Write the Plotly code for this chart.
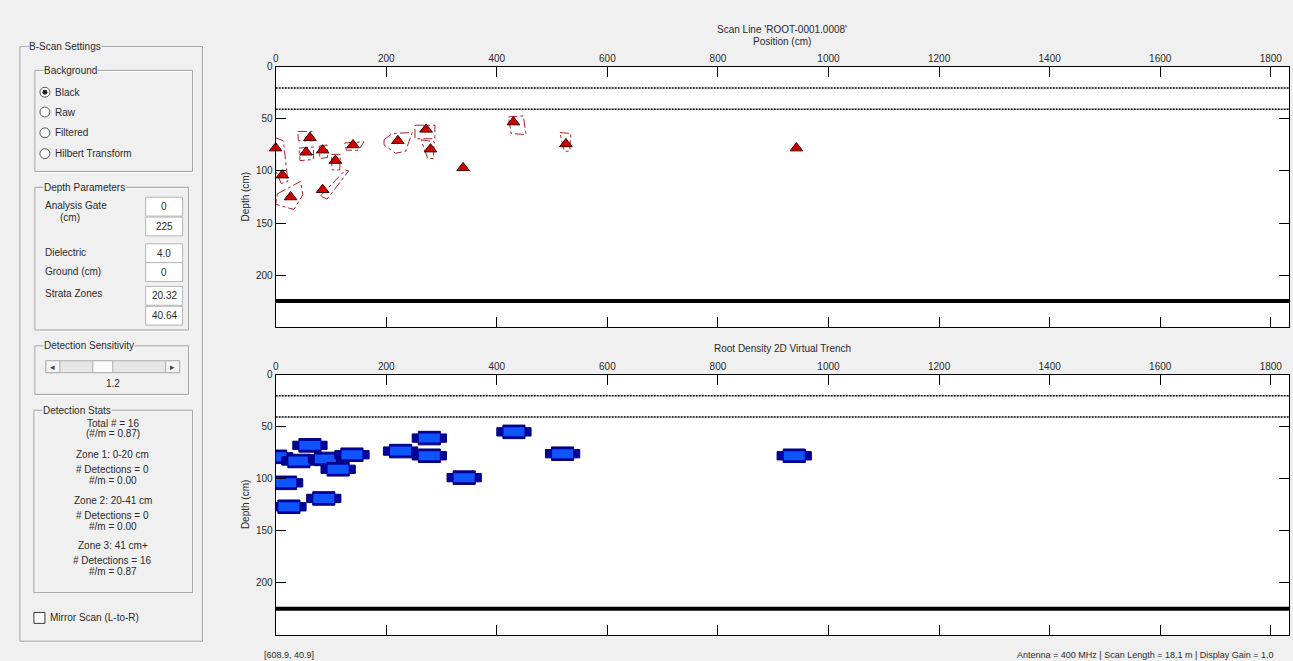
import plotly.graph_objects as go

W, H = 1293, 661

# ---------------- data ----------------
x_ticks = [0, 200, 400, 600, 800, 1000, 1200, 1400, 1600, 1800]
y_ticks = [0, 50, 100, 150, 200]
x_max = 1833
depth_max = 250
strata_zones = [20.32, 40.64]
analysis_gate = [0, 225]

det_x = [0, 62, 55, 85, 108, 140, 12, 27, 85, 221, 272, 280, 339, 430, 525, 942]
det_depth = [78, 68, 82, 80, 90, 75, 104, 125, 118, 71, 60, 79, 97, 53, 74, 78]

blob_x = [0, 62, 42, 90, 113, 138, 18, 24, 87, 226, 278, 278, 341, 431, 519, 938]
blob_depth = [79, 68, 83, 81, 91, 77, 104, 127, 119, 73.5, 61, 78, 99, 55, 76, 78]

outline_x = [
    [0, 14, 20, 22, 10, 0, 0],
    [3, 45, 49, 33, 0, 3],
    [42, 69, 68, 44, 42],
    [40, 66, 67, 41, 40],
    [79, 93, 94, 80, 79],
    [101, 117, 116, 102, 101],
    [81, 126, 132, 93, 81],
    [125, 160, 150, 128, 125],
    [196, 211, 247, 235, 217, 196, 196],
    [252, 288, 288, 252, 252],
    [263, 287, 285, 275, 263],
    [421, 448, 453, 426, 421],
    [514, 534, 532, 522, 514],
]
outline_depth = [
    [68, 71, 100, 110, 112, 100, 68],
    [122, 110, 123, 137, 132, 122],
    [78, 77, 89, 90, 78],
    [62, 62, 71, 71, 62],
    [76, 75, 87, 88, 76],
    [84, 84, 99, 99, 84],
    [124, 99, 100, 127, 124],
    [73, 72, 80, 80, 73],
    [70, 64, 63, 81, 83, 75, 70],
    [56, 56, 69, 69, 56],
    [70, 72, 88, 88, 70],
    [48, 47, 65, 64, 48],
    [63, 64, 81, 81, 63],
]

stats_lines = ["Total # = 16", "(#/m = 0.87)", "Zone 1: 0-20 cm", "# Detections = 0", "#/m = 0.00",
               "Zone 2: 20-41 cm", "# Detections = 0", "#/m = 0.00", "Zone 3: 41 cm+",
               "# Detections = 16", "#/m = 0.87"]
background_options = ["Black", "Raw", "Filtered", "Hilbert Transform"]
depth_labels = ["Analysis Gate", "(cm)", "Dielectric", "Ground (cm)", "Strata Zones"]
depth_values = ["0", "225", "4.0", "0", "20.32", "40.64"]

FONT = "Liberation Sans"
TXT = "#2a2a2a"

fig = go.Figure()

# ---------------- panel 1: detections ----------------
for zd in strata_zones:
    fig.add_trace(go.Scatter(x=[0, x_max], y=[zd, zd], mode="lines",
                             line=dict(color="black", width=1.5, dash="2px,1px"),
                             xaxis="x", yaxis="y", showlegend=False, hoverinfo="skip"))
fig.add_trace(go.Scatter(x=[0, x_max], y=[analysis_gate[1]] * 2, mode="lines",
                         line=dict(color="black", width=4), xaxis="x", yaxis="y",
                         showlegend=False, hoverinfo="skip"))
ox, oy = [], []
for xs, ys in zip(outline_x, outline_depth):
    ox += xs + [None]
    oy += ys + [None]
fig.add_trace(go.Scatter(x=ox, y=oy, mode="lines",
                         line=dict(color="#b0202a", width=1, dash="dashdot"),
                         xaxis="x", yaxis="y", showlegend=False, hoverinfo="skip"))
fig.add_trace(go.Scatter(x=det_x, y=det_depth, mode="markers",
                         marker=dict(symbol="triangle-up", size=11, color="#d00000",
                                     line=dict(color="#3a0000", width=1)),
                         xaxis="x", yaxis="y", showlegend=False, cliponaxis=False))

# ---------------- panel 2: root density ----------------
for zd in strata_zones:
    fig.add_trace(go.Scatter(x=[0, x_max], y=[zd, zd], mode="lines",
                             line=dict(color="black", width=1.5, dash="2px,1px"),
                             xaxis="x2", yaxis="y2", showlegend=False, hoverinfo="skip"))
fig.add_trace(go.Scatter(x=[0, x_max], y=[analysis_gate[1]] * 2, mode="lines",
                         line=dict(color="black", width=4), xaxis="x2", yaxis="y2",
                         showlegend=False, hoverinfo="skip"))

EAR_W, EAR_H, CORE_W, CORE_H = 31, 4.0, 20, 6.5
IN_W, IN_H = 19, 4.3
for bx, bd in zip(blob_x, blob_depth):
    pxs = [bx - EAR_W, bx - CORE_W, bx - CORE_W, bx + CORE_W, bx + CORE_W, bx + EAR_W,
           bx + EAR_W, bx + CORE_W, bx + CORE_W, bx - CORE_W, bx - CORE_W, bx - EAR_W, bx - EAR_W]
    pys = [bd - EAR_H, bd - EAR_H, bd - CORE_H, bd - CORE_H, bd - EAR_H, bd - EAR_H,
           bd + EAR_H, bd + EAR_H, bd + CORE_H, bd + CORE_H, bd + EAR_H, bd + EAR_H, bd - EAR_H]
    fig.add_trace(go.Scatter(x=pxs, y=pys, mode="lines", fill="toself", fillcolor="#00009a",
                             line=dict(color="#00007a", width=1), xaxis="x2", yaxis="y2",
                             showlegend=False, hoverinfo="skip"))
    fig.add_trace(go.Scatter(x=[bx - IN_W, bx + IN_W, bx + IN_W, bx - IN_W, bx - IN_W],
                             y=[bd - IN_H, bd - IN_H, bd + IN_H, bd + IN_H, bd - IN_H],
                             mode="lines", fill="toself", fillcolor="#0f55ff",
                             line=dict(color="#0f55ff", width=0), xaxis="x2", yaxis="y2",
                             showlegend=False, hoverinfo="skip"))

# ---------------- axes ----------------
x0p, x1p = 273.3 / W, 1289 / W
ax_common = dict(showline=True, linecolor="black", linewidth=1.2, mirror="allticks",
                 ticks="inside", ticklen=10, tickwidth=1.2, tickcolor="black",
                 showgrid=False, zeroline=False,
                 tickfont=dict(family=FONT, size=10, color=TXT))
fig.update_layout(
    xaxis=dict(domain=[x0p, x1p], range=[0, x_max], tickvals=x_ticks, side="top",
               anchor="y", **ax_common),
    yaxis=dict(domain=[1 - 324 / H, 1 - 61.5 / H], range=[depth_max, 0], tickvals=y_ticks,
               anchor="x", **ax_common),
    xaxis2=dict(domain=[x0p, x1p], range=[0, x_max], tickvals=x_ticks, side="top",
                anchor="y2", **ax_common),
    yaxis2=dict(domain=[1 - 634.5 / H, 1 - 372 / H], range=[depth_max, 0], tickvals=y_ticks,
                anchor="x2", **ax_common),
)

# ---------------- GUI helpers ----------------
shapes = []
annotations = []


def px(x):
    return x / W


def py(y):
    return 1 - y / H


def rect(x0, y0, x1, y1, line="#a8a8a8", fill=None, lw=1):
    shapes.append(dict(type="rect", xref="paper", yref="paper", x0=px(x0), x1=px(x1),
                       y0=py(y1), y1=py(y0), line=dict(color=line, width=lw),
                       fillcolor=fill if fill else "rgba(0,0,0,0)", layer="above"))


def text(x, y, s, size=10, anchor="left", color=TXT, bg=None):
    a = dict(xref="paper", yref="paper", x=px(x), y=py(y), text=s, showarrow=False,
             xanchor=anchor, yanchor="middle", font=dict(family=FONT, size=size, color=color))
    if bg:
        a["bgcolor"] = bg
        a["borderpad"] = 0
    annotations.append(a)


def group(x0, y0, x1, y1, title):
    rect(x0 + 1, y0 + 1, x1 + 1, y1 + 1, line="#ffffff")
    rect(x0, y0, x1, y1, line="#a0a0a0")
    text(x0 + 8, y0, title, bg="#f0f0f0")


BG = "#f0f0f0"
group(17, 41, 200, 641, "B-Scan Settings")
group(32, 65, 190, 167, "Background")
for i, opt in enumerate(background_options):
    yy = [87, 107, 128, 149][i]
    shapes.append(dict(type="circle", xref="paper", yref="paper", x0=px(37), x1=px(47),
                       y0=py(yy + 5), y1=py(yy - 5), line=dict(color="#555555", width=1),
                       fillcolor="white", layer="above"))
    if i == 0:
        shapes.append(dict(type="circle", xref="paper", yref="paper", x0=px(39.5), x1=px(44.5),
                           y0=py(yy + 2.5), y1=py(yy - 2.5), line=dict(color="#222", width=0),
                           fillcolor="#222222", layer="above"))
    text(50, yy, opt)

group(32, 183, 186, 327, "Depth Parameters")
for lab, yy, xx in zip(depth_labels, [201, 213, 249, 268, 290], [40, 55, 40, 40, 40]):
    text(xx, yy, lab)
box_y = [(193, 212), (213, 232), (240, 259), (259, 278), (283, 302), (303, 322)]
for (ya, yb), v in zip(box_y, depth_values):
    rect(143, ya, 180, yb, line="#b5b5b5", fill="white")
    text(161.5, (ya + yb) / 2, v, anchor="center")

group(32, 343, 186, 392, "Detection Sensitivity")
rect(43, 358, 177, 370, line="#adadad", fill="#e6e6e6")
rect(43, 358, 57, 370, line="#adadad", fill="#f4f4f4")
rect(163, 358, 177, 370, line="#adadad", fill="#f4f4f4")
rect(90, 358, 110, 370, line="#adadad", fill="#fbfbfb")
text(50, 364, "◂", size=9, anchor="center", color="#444")
text(170, 364, "▸", size=9, anchor="center", color="#444")
text(110, 381, "1.2", anchor="center")

group(31, 408, 190, 592, "Detection Stats")
stats_y = [421, 431, 453, 468, 479, 499, 514, 525, 544, 560, 571]
for s, yy in zip(stats_lines, stats_y):
    text(110, yy, s, anchor="center")

rect(31, 612, 42, 623, line="#333333", fill="white")
text(45, 617.5, "Mirror Scan (L-to-R)")

# ---------------- chart texts ----------------
cx = (273.3 + 1289) / 2
text(cx, 24, "Scan Line 'ROOT-0001.0008'", anchor="center")
text(cx, 36, "Position (cm)", anchor="center")
text(cx, 346, "Root Density 2D Virtual Trench", anchor="center")
for yc in [(61.5 + 324) / 2, (372 + 634.5) / 2]:
    annotations.append(dict(xref="paper", yref="paper", x=px(243), y=py(yc), text="Depth (cm)",
                            textangle=-90, showarrow=False, xanchor="center", yanchor="middle",
                            font=dict(family=FONT, size=10, color=TXT)))
text(260, 655, "[608.9, 40.9]", size=9)
text(1276, 655, "Antenna = 400 MHz | Scan Length = 18.1 m | Display Gain = 1.0", size=9,
     anchor="right")

fig.update_layout(width=W, height=H, autosize=False, margin=dict(l=0, r=0, t=0, b=0),
                  paper_bgcolor=BG, plot_bgcolor="white", showlegend=False,
                  shapes=shapes, annotations=annotations)

fig.write_html("out.html", config={"displayModeBar": False},
               post_script="document.body.style.margin='0';document.body.style.padding='0';"
                           "document.body.style.overflow='hidden';"
                           "document.documentElement.style.overflow='hidden';")
